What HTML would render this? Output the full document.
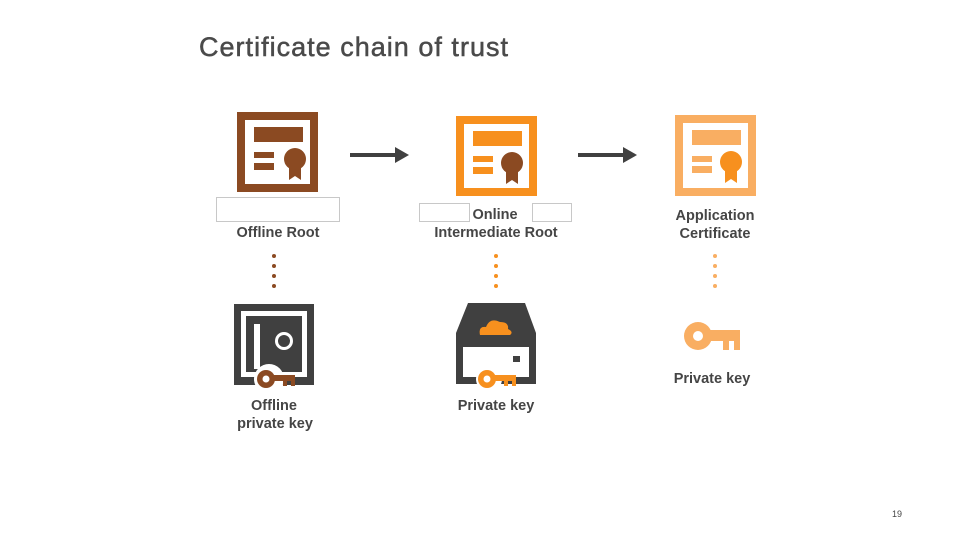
<!DOCTYPE html>
<html><head><meta charset="utf-8"><style>
html,body{margin:0;padding:0;background:#fff;}
svg{display:block;}
text{font-family:"Liberation Sans",sans-serif;font-weight:bold;fill:#454545;}
</style></head><body>
<svg width="960" height="540" viewBox="0 0 960 540" xmlns="http://www.w3.org/2000/svg">
<text x="199" y="56" font-size="27" textLength="309" lengthAdjust="spacing" style="font-weight:normal;fill:#4a4a4a;stroke:#4a4a4a;stroke-width:0.5">Certificate chain of trust</text>

<!-- cert 1 -->
<g transform="translate(237,112)">
<rect x="0" y="0" width="81" height="80" fill="#8B4A22"/>
<rect x="8" y="8" width="65" height="64" fill="#fff"/>
<rect x="17" y="15" width="49" height="15" fill="#8B4A22"/>
<rect x="17" y="40" width="20" height="6" fill="#8B4A22"/>
<rect x="17" y="51" width="20" height="7" fill="#8B4A22"/>
<path d="M52 52 L52 68 L58 64 L64 68 L64 52 Z" fill="#8B4A22"/>
<circle cx="58" cy="47" r="11" fill="#8B4A22"/>
</g>
<!-- cert 2 -->
<g transform="translate(456,116)">
<rect x="0" y="0" width="81" height="80" fill="#F7901E"/>
<rect x="8" y="8" width="65" height="64" fill="#fff"/>
<rect x="17" y="15" width="49" height="15" fill="#F7901E"/>
<rect x="17" y="40" width="20" height="6" fill="#F7901E"/>
<rect x="17" y="51" width="20" height="7" fill="#F7901E"/>
<path d="M50 52 L50 68 L56 64 L62 68 L62 52 Z" fill="#8B4A22"/>
<circle cx="56" cy="47" r="11" fill="#8B4A22"/>
</g>
<!-- cert 3 -->
<g transform="translate(675,115)">
<rect x="0" y="0" width="81" height="81" fill="#F9AE62"/>
<rect x="8" y="8" width="65" height="65" fill="#fff"/>
<rect x="17" y="15" width="49" height="15" fill="#F9AE62"/>
<rect x="17" y="41" width="20" height="6" fill="#F9AE62"/>
<rect x="17" y="51" width="20" height="7" fill="#F9AE62"/>
<path d="M50 52 L50 68 L56 64 L62 68 L62 52 Z" fill="#F7901E"/>
<circle cx="56" cy="47" r="11" fill="#F7901E"/>
</g>

<!-- arrows -->
<rect x="350" y="153" width="46" height="4" fill="#404040"/>
<path d="M395 147 L409 155 L395 163 Z" fill="#404040"/>
<rect x="578" y="153" width="46" height="4" fill="#404040"/>
<path d="M623 147 L637 155 L623 163 Z" fill="#404040"/>

<!-- label boxes -->
<rect x="216.5" y="197.5" width="123" height="24" fill="#fff" stroke="#c8c8c8"/>
<rect x="419.5" y="203.5" width="50" height="18" fill="#fff" stroke="#c8c8c8"/>
<rect x="532.5" y="203.5" width="39" height="18" fill="#fff" stroke="#c8c8c8"/>

<text x="278" y="237" font-size="14.5" text-anchor="middle">Offline Root</text>
<text x="495" y="219" font-size="14.5" text-anchor="middle">Online</text>
<text x="496" y="237" font-size="14.5" text-anchor="middle">Intermediate Root</text>
<text x="715" y="220" font-size="14.5" text-anchor="middle">Application</text>
<text x="715" y="238" font-size="14.5" text-anchor="middle">Certificate</text>

<!-- dots -->
<g fill="#8B4A22"><circle cx="274" cy="256" r="2"/><circle cx="274" cy="266" r="2"/><circle cx="274" cy="276" r="2"/><circle cx="274" cy="286" r="2"/></g>
<g fill="#F7901E"><circle cx="496" cy="256" r="2"/><circle cx="496" cy="266" r="2"/><circle cx="496" cy="276" r="2"/><circle cx="496" cy="286" r="2"/></g>
<g fill="#F9AE62"><circle cx="715" cy="256" r="2"/><circle cx="715" cy="266" r="2"/><circle cx="715" cy="276" r="2"/><circle cx="715" cy="286" r="2"/></g>

<!-- safe -->
<g>
<rect x="234" y="304" width="80" height="81" fill="#404040"/>
<rect x="241" y="311" width="66" height="66" fill="#fff"/>
<rect x="246" y="316" width="56" height="56" fill="#404040"/>
<rect x="254" y="324" width="6" height="45" fill="#fff"/>
<circle cx="284" cy="341" r="9" fill="#fff"/>
<circle cx="284" cy="341" r="6" fill="#404040"/>
<circle cx="269" cy="379" r="15" fill="#fff"/>
<circle cx="266" cy="379" r="9" fill="#8B4A22"/>
<circle cx="266" cy="379" r="3.5" fill="#fff"/>
<path d="M273 375 H295 V386 H291 V381 H287 V386 H283 V381 H273 Z" fill="#8B4A22"/>
</g>
<text x="274" y="410" font-size="14.5" text-anchor="middle">Offline</text>
<text x="275" y="428" font-size="14.5" text-anchor="middle">private key</text>

<!-- drive -->
<g>
<path d="M468 303 H525 L536 333 V384 H456 V333 Z" fill="#404040"/>
<rect x="463" y="357" width="66" height="20" fill="#fff"/>
<rect x="463" y="347" width="66" height="14" fill="#fff"/>
<rect x="513" y="356" width="7" height="6" fill="#404040"/>
<path d="M480 335 Q478 326 486 327 Q490 317 500 322 Q509 322 508 329 Q514 332 510 335 Z" fill="#F7901E"/>
<circle cx="489" cy="379" r="13" fill="#fff"/>
<circle cx="487" cy="379" r="9" fill="#F7901E"/>
<circle cx="487" cy="379" r="3.5" fill="#fff"/>
<path d="M494 375 H516 V386 H512 V381 H508 V386 H504 V381 H494 Z" fill="#F7901E"/>
</g>
<text x="496" y="410" font-size="14.5" text-anchor="middle">Private key</text>

<!-- key 3 -->
<g>
<circle cx="698" cy="336" r="14" fill="#F9AE62"/>
<circle cx="698" cy="336" r="5" fill="#fff"/>
<path d="M708 330 H740 V350 H734 V341 H729 V350 H723 V341 H708 Z" fill="#F9AE62"/>
</g>
<text x="712" y="383" font-size="14.5" text-anchor="middle">Private key</text>

<text x="892" y="517" font-size="9" style="font-weight:normal" fill="#999">19</text>
</svg>
</body></html>
